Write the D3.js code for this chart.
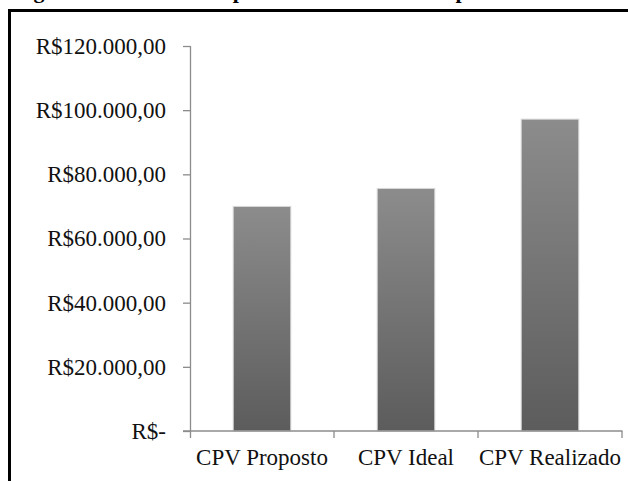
<!DOCTYPE html>
<html>
<head>
<meta charset="utf-8">
<script src="https://cdn.jsdelivr.net/npm/d3@7"></script>
<style>
  body { margin: 0; background: #fff; }
  svg { display: block; }
</style>
</head>
<body>
<svg width="628" height="481"></svg>
<script>
// chart data
var categories = ['CPV Proposto', 'CPV Ideal', 'CPV Realizado'];
var values = [70000, 75600, 97200];
var yTicks = [0, 20000, 40000, 60000, 80000, 100000, 120000];
var title = 'Figura 4 – Gráfico comparativo dos CPV – Propostos';

var svg = d3.select("svg");
var font = "'Liberation Serif', 'Times New Roman', serif";

// caption above the frame, cut off by the top edge as in the source
svg.append("text")
  .attr("x", 14)
  .attr("y", -2)
  .style("font-family", font)
  .style("font-size", "22px")
  .style("font-weight", "bold")
  .text(title);

// frame around the chart (runs off the right and bottom edges)
svg.append("rect")
  .attr("x", 9.5).attr("y", 10.5)
  .attr("width", 700).attr("height", 600)
  .attr("fill", "none")
  .attr("stroke", "#000")
  .attr("stroke-width", 3);

var x0 = 190, x1 = 622, yTop = 46, yBot = 431;

var xScale = d3.scaleBand().domain(categories).range([x0, x1]).paddingInner(0.6).paddingOuter(0.3);
var yScale = d3.scaleLinear().domain([0, 120000]).range([yBot, yTop]);

// gradient fill for the bars
var grad = svg.append("defs").append("linearGradient")
  .attr("id", "barGrad").attr("x1", 0).attr("y1", 0).attr("x2", 0).attr("y2", 1);
grad.append("stop").attr("offset", "0%").attr("stop-color", "#8c8c8c");
grad.append("stop").attr("offset", "100%").attr("stop-color", "#5c5c5c");

svg.selectAll(".bar")
  .data(values)
  .enter()
  .append("rect")
  .attr("class", "bar")
  .attr("x", function(d, i) { return xScale(categories[i]); })
  .attr("y", function(d) { return yScale(d); })
  .attr("width", xScale.bandwidth())
  .attr("height", function(d) { return yBot - yScale(d); })
  .attr("fill", "url(#barGrad)")
  .attr("stroke", "#d8d8d8")
  .attr("stroke-width", 1);

function fmt(v)
{
  if (v == 0) return 'R$-';
  return 'R$' + d3.format(",.2f")(v).replace(/,/g, '#').replace('.', ',').replace(/#/g, '.');
}

// y axis
var yAxis = svg.append("g")
  .attr("transform", "translate(" + x0 + ",0)")
  .call(d3.axisLeft(yScale).tickValues(yTicks).tickFormat(fmt).tickSize(7).tickPadding(17).tickSizeOuter(0));
yAxis.selectAll("line, path").attr("stroke", "#8c8c8c").attr("stroke-width", 1.3);
yAxis.selectAll("text")
  .attr("fill", "#111")
  .style("font-family", font)
  .style("font-size", "23px");
yAxis.select("path").attr("d", "M0.5," + yTop + "V" + (yBot + 7));

// x axis with tick marks between categories
var xAxis = svg.append("g").attr("transform", "translate(0," + yBot + ")");
xAxis.append("line")
  .attr("x1", x0 - 7).attr("x2", x1 + 0.5)
  .attr("stroke", "#8c8c8c").attr("stroke-width", 1.3);
var step = (x1 - x0) / categories.length;
xAxis.selectAll(".sep")
  .data(d3.range(1, categories.length + 1))
  .enter()
  .append("line")
  .attr("x1", function(d) { return x0 + d * step; })
  .attr("x2", function(d) { return x0 + d * step; })
  .attr("y1", 0).attr("y2", 7)
  .attr("stroke", "#8c8c8c").attr("stroke-width", 1.3);
xAxis.selectAll(".lbl")
  .data(categories)
  .enter()
  .append("text")
  .attr("x", function(d) { return xScale(d) + xScale.bandwidth() / 2; })
  .attr("y", 34)
  .attr("text-anchor", "middle")
  .attr("fill", "#111")
  .style("font-family", font)
  .style("font-size", "23px")
  .text(function(d) { return d; });
</script>
</body>
</html>
